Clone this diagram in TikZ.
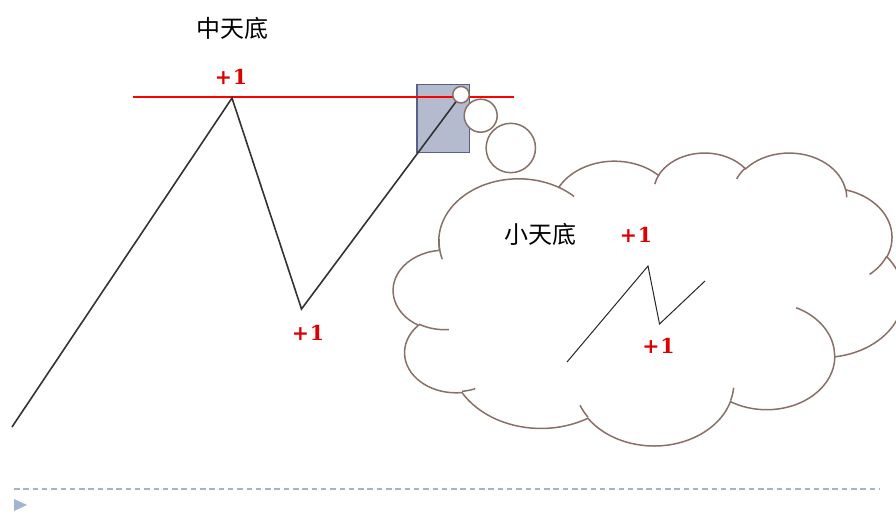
\documentclass[tikz,border=0pt]{standalone}
\usepackage{fontspec}
\newfontfamily\cjk{Noto Sans CJK SC}
\newfontfamily\numf{DejaVu Serif Bold}
\definecolor{cloudc}{RGB}{137,112,103}
\definecolor{rectfill}{RGB}{181,187,207}
\definecolor{rectdraw}{RGB}{86,96,138}
\definecolor{dashc}{RGB}{160,181,208}
\definecolor{tric}{RGB}{160,182,208}
\definecolor{plusred}{RGB}{220,0,0}
\tikzset{
  cloudline/.style={draw=cloudc, line width=1.5pt},
  zig/.style={draw=black!80, line width=1.6pt, line join=miter},
  minizig/.style={draw=black!85, line width=1pt},
  plusone/.style={inner sep=0pt, text=plusred, font=\numf\fontsize{20.5}{20.5}\selectfont},
  title/.style={inner sep=0pt, font=\cjk\fontsize{24}{24}\selectfont},
  bubble/.style={draw=cloudc, line width=1.5pt, fill=white},
}
\begin{document}
\begin{tikzpicture}[x=1pt,y=-1pt]
\useasboundingbox (0,0) rectangle (896,518);
\fill[white] (0,0) rectangle (896,518);

% cloud (PowerPoint cloud geometry)
\begin{scope}[shift={(393.5pt,-152.1pt)}, x=1.18pt, y=-0.678pt]
\draw[cloudline, fill=white] (39,143.7)
 arc[start angle=172.25, end angle=300.36, x radius=67.53, y radius=91.90]
 arc[start angle=207.96, end angle=314.54, x radius=53.33, y radius=72.67]
 arc[start angle=-153.50, end angle=-37.35, x radius=43.65, y radius=59.45]
 arc[start angle=-139.72, end angle=-10.21, x radius=48.57, y radius=65.95]
 arc[start angle=-74.77, end angle=23.21, x radius=53.33, y radius=72.73]
 arc[start angle=-37.50, end angle=81.86, x radius=67.75, y radius=92.20]
 arc[start angle=0.46, end angle=121.98, x radius=57.85, y radius=78.67]
 arc[start angle=16.84, end angle=146.23, x radius=67.52, y radius=92.15]
 arc[start angle=58.98, end angle=150.17, x radius=77.20, y radius=105.43]
 arc[start angle=83.31, end angle=223.11, x radius=43.60, y radius=59.18]
 arc[start angle=120.36, end angle=264.11, x radius=43.45, y radius=59.45]
 -- cycle;
\draw[cloudline] (41.27,157.89) arc[start angle=163.73, end angle=182.41, x radius=67.53, y radius=91.90];
\draw[cloudline] (140.00,51.92) arc[start angle=-59.64, end angle=-45.75, x radius=67.53, y radius=91.90];
\draw[cloudline] (221.41,47.20) arc[start angle=-167.73, end angle=-153.50, x radius=43.65, y radius=59.45];
\draw[cloudline] (290.78,39.52) arc[start angle=-156.29, end angle=-139.72, x radius=48.57, y radius=65.95];
\draw[cloudline] (383.24,54.26) arc[start angle=-10.21, end angle=0.82, x radius=48.57, y radius=65.95];
\draw[cloudline] (417.98,153.54) arc[start angle=23.21, end angle=49.65, x radius=53.33, y radius=72.73];
\draw[cloudline] (341.29,229.54) arc[start angle=-64.03, end angle=0.46, x radius=57.85, y radius=78.67];
\draw[cloudline] (288.27,347.51) arc[start angle=4.74, end angle=16.84, x radius=67.52, y radius=92.15];
\draw[cloudline] (164.78,390.90) arc[start angle=146.23, end angle=158.47, x radius=67.52, y radius=92.15];
\draw[cloudline] (69.28,348.99) arc[start angle=68.24, end angle=83.31, x radius=43.60, y radius=59.18];
\draw[cloudline] (46.93,261.77) arc[start angle=85.55, end angle=120.36, x radius=43.45, y radius=59.45];
\end{scope}

% highlight rectangle
\draw[fill=rectfill, draw=rectdraw, line width=1.3pt] (417,84.5) rectangle (469.5,152.7);

% red level line
\coordinate (rl) at (133,97);
\coordinate (rr) at (514,97);
\draw[red, line width=2pt] (rl) -- (rr);

% main zigzag
\coordinate (z0) at (12,427);
\coordinate (z1) at (232,98);
\coordinate (z2) at (301.5,309);
\coordinate (z3) at (461,95);
\draw[zig] (z0) -- (z1) -- (z2) -- (z3);

% thought bubbles
\node[bubble, circle, minimum size=16.5pt, inner sep=0pt] (b1) at (461,94.7) {};
\node[bubble, circle, minimum size=33pt, inner sep=0pt] (b2) at (480.7,115.7) {};
\node[bubble, circle, minimum size=49.4pt, inner sep=0pt] (b3) at (510.8,148) {};

% mini zigzag in the cloud
\coordinate (m0) at (567,362);
\coordinate (m1) at (648,266);
\coordinate (m2) at (659.5,324);
\coordinate (m3) at (705,281);
\draw[minizig] (m0) -- (m1) -- (m2) -- (m3);

% texts
\node[title] (t1) at (232.3,28.2) {中天底};
\node[title] (t2) at (540.5,234) {小天底};
\node[plusone] (p1) at (231,76.5) {+\kern1pt1};
\node[plusone] (p2) at (308,333) {+\kern1pt1};
\node[plusone] (p3) at (636,234.5) {+\kern1pt1};
\node[plusone] (p4) at (658.5,346) {+\kern1pt1};

% footer
\coordinate (d0) at (14,489.3);
\coordinate (d1) at (880,489.3);
\draw[dashc, line width=1.8pt, dash pattern=on 5.5pt off 3.8pt] (d0) -- (d1);
\fill[tric] (14,499) -- (27,505) -- (14,511) -- cycle;
\end{tikzpicture}
\end{document}
